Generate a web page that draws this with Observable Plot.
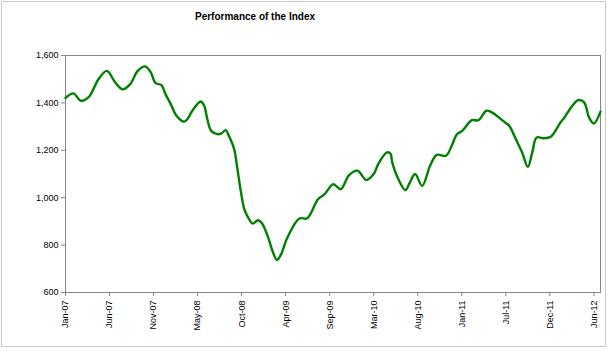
<!DOCTYPE html>
<html>
<head>
<meta charset="utf-8">
<script src="https://cdn.jsdelivr.net/npm/d3@7"></script>
<script src="https://cdn.jsdelivr.net/npm/@observablehq/plot@0.6"></script>
<style>
  html, body { margin: 0; padding: 0; background: #fff; }
  #frame { position: absolute; left: 1px; top: 1px; width: 605px; height: 346px; border: 1px solid #c8c8c8; box-sizing: border-box; }
  #title { position: absolute; left: 0; top: 11px; width: 510px; text-align: center; font: bold 10px "Liberation Sans", Arial, sans-serif; line-height: 12px; color: #000; }
  #chart { position: absolute; left: 0; top: 35px; }
</style>
</head>
<body>
<div id="frame"></div>
<div id="title">Performance of the Index</div>
<div id="chart"></div>
<script>
const title = "Performance of the Index";
const tickLabels = ["Jan-07","Jun-07","Nov-07","May-08","Oct-08","Apr-09","Sep-09","Mar-10","Aug-10","Jan-11","Jul-11","Dec-11","Jun-12"];
const yTicks = [600, 800, 1000, 1200, 1400, 1600];
// position along the category axis, in label-interval units
const period = [0, 0.18, 0.35, 0.52, 0.75, 0.94, 1.13, 1.30, 1.47, 1.64, 1.81, 1.94, 2.04, 2.18, 2.27, 2.39, 2.52, 2.69, 2.77, 2.88, 3.07, 3.15, 3.22, 3.31, 3.45, 3.54, 3.64, 3.71, 3.83, 3.90, 3.98, 4.06, 4.15, 4.25, 4.37, 4.45, 4.59, 4.70, 4.80, 4.89, 5.04, 5.31, 5.49, 5.73, 5.89, 6.08, 6.25, 6.44, 6.63, 6.83, 7.00, 7.11, 7.30, 7.38, 7.42, 7.56, 7.72, 7.82, 7.94, 8.10, 8.28, 8.43, 8.64, 8.77, 8.89, 9.01, 9.23, 9.38, 9.56, 9.71, 9.93, 10.08, 10.21, 10.37, 10.50, 10.60, 10.70, 10.85, 11.02, 11.24, 11.33, 11.51, 11.65, 11.78, 11.89, 12.00, 12.15];
const indexValue = [1421, 1440, 1409, 1423, 1500, 1535, 1486, 1457, 1479, 1535, 1554, 1528, 1484, 1475, 1437, 1395, 1346, 1321, 1332, 1367, 1406, 1388, 1332, 1282, 1268, 1271, 1285, 1261, 1205, 1127, 1029, 952, 916, 891, 905, 895, 839, 776, 737, 759, 832, 912, 913, 992, 1016, 1057, 1036, 1095, 1114, 1075, 1100, 1145, 1191, 1186, 1149, 1078, 1032, 1064, 1100, 1050, 1135, 1181, 1177, 1219, 1268, 1282, 1327, 1327, 1367, 1357, 1325, 1303, 1254, 1191, 1130, 1191, 1254, 1251, 1257, 1317, 1338, 1388, 1412, 1402, 1338, 1313, 1363];

const data = period.map((t, i) => ({t, v: indexValue[i]}));
const axisGray = "#868686";

const chart = Plot.plot({
  width: 610,
  height: 316,
  marginLeft: 65,
  marginRight: 10,
  marginTop: 20,
  marginBottom: 59,
  x: {domain: [0, 12.15]},
  y: {domain: [600, 1600]},
  style: {fontFamily: "'Liberation Sans', Arial, sans-serif", fontSize: "9px", color: "#000", background: "transparent", overflow: "visible"},
  marks: [
    Plot.frame({stroke: axisGray}),
    Plot.axisY({ticks: yTicks, tickFormat: d3.format(","), tickSize: 4, tickPadding: 3, stroke: axisGray, fill: "#000", label: null}),
    Plot.axisX({ticks: d3.range(tickLabels.length), tickFormat: i => tickLabels[i], tickRotate: -90, tickSize: 4, tickPadding: 4, stroke: axisGray, fill: "#000", label: null}),
    Plot.line(data, {x: "t", y: "v", curve: "catmull-rom", stroke: "#008000", strokeWidth: 2.4})
  ]
});
document.getElementById("title").textContent = title;
document.getElementById("chart").appendChild(chart);
</script>
</body>
</html>
